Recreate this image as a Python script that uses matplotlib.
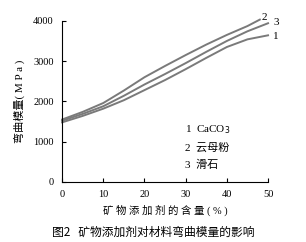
import numpy as np
from matplotlib import pyplot as plt

plt.rcParams['font.family'] = ['Liberation Serif', 'Noto Sans CJK SC', 'DejaVu Sans']

# filler content (%)
content = [0, 5, 10, 15, 20, 25, 30, 35, 40, 45, 48]
content_full = [0, 5, 10, 15, 20, 25, 30, 35, 40, 45, 50]
# flexural modulus (MPa)
caco3 = [1480, 1640, 1820, 2030, 2280, 2530, 2800, 3080, 3350, 3540, 3640]
mica = [1550, 1740, 1960, 2270, 2600, 2880, 3150, 3410, 3650, 3870, 4030]
talc = [1520, 1690, 1880, 2140, 2420, 2680, 2950, 3230, 3500, 3740, 3940]

legend_lines = ['1  CaCO$_3$', '2  云母粉', '3  滑石']

fig = plt.figure(figsize=(3.06, 2.42), dpi=100)
ax = fig.add_axes([0.203, 0.248, 0.673, 0.666])

col = '#7a7a7a'
ax.plot(content_full, caco3, color=col, lw=1.4, clip_on=False)
ax.plot(content, mica, color=col, lw=1.4, clip_on=False)
ax.plot(content_full, talc, color=col, lw=1.4, clip_on=False)

ax.text(49.2, 4090, '2', fontsize=8, ha='center', va='center')
ax.text(52.0, 3960, '3', fontsize=8, ha='center', va='center')
ax.text(52.0, 3610, '1', fontsize=8, ha='center', va='center')

for i, s in enumerate(legend_lines):
    ax.text(29.8, 1290 - i * 430, s, fontsize=8, ha='left', va='center')

ax.set_xlim(0, 50)
ax.set_ylim(0, 4000)
ax.set_xticks([0, 10, 20, 30, 40, 50])
ax.set_yticks([0, 1000, 2000, 3000, 4000])
ax.tick_params(direction='in', length=3, labelsize=7.5, pad=6)
ax.spines['top'].set_visible(False)
ax.spines['right'].set_visible(False)

ax.set_xlabel('矿 物 添 加 剂 的 含 量 ( % )', fontsize=7.5, labelpad=4)
ax.set_ylabel('弯曲模量( M P a )', fontsize=8, labelpad=6)
fig.text(0.5, 0.04, '图2   矿物添加剂对材料弯曲模量的影响', fontsize=8.5,
         ha='center', va='center', family=['Noto Sans CJK SC'], weight='medium')

fig.savefig('out.png', dpi=100)
